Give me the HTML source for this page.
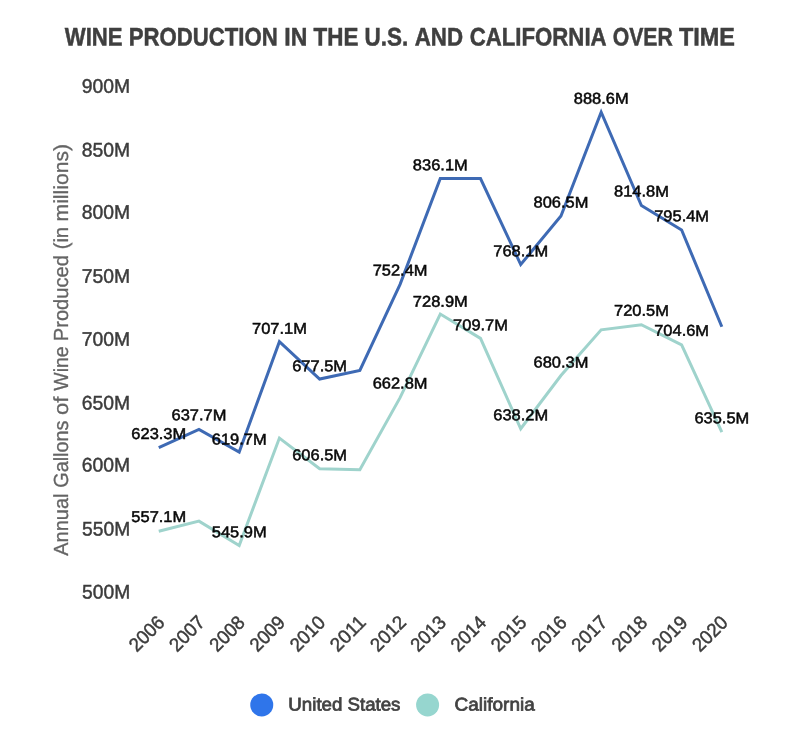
<!DOCTYPE html>
<html lang="en">
<head>
<meta charset="utf-8">
<title>Wine Production in the U.S. and California Over Time</title>
<style>
html,body{margin:0;padding:0;background:#fff;}
body{width:800px;height:729px;overflow:hidden;}
svg{display:block;}
text{font-family:"Liberation Sans",sans-serif;text-rendering:geometricPrecision;}
.title{font-size:25.3px;font-weight:700;fill:#3f3f3f;stroke:#3f3f3f;stroke-width:0.5px;}
.ytick{font-size:19.6px;font-weight:400;fill:#3c3c3c;stroke:#3c3c3c;stroke-width:0.45px;}
.xtick{font-size:19.3px;font-weight:400;fill:#3c3c3c;stroke:#3c3c3c;stroke-width:0.45px;}
.ytitle{font-size:20.4px;font-weight:400;fill:#646464;stroke:#646464;stroke-width:0.3px;}
.dl{font-size:15.7px;font-weight:400;fill:#080808;stroke:#080808;stroke-width:0.5px;}
.leg{font-size:18.3px;font-weight:400;fill:#424242;stroke:#424242;stroke-width:0.75px;}
.line{fill:none;stroke-width:3;stroke-linejoin:miter;stroke-linecap:butt;}
</style>
</head>
<body>
<svg width="800" height="729" viewBox="0 0 800 729" role="img" aria-label="Wine production in the U.S. and California over time">
<rect x="0" y="0" width="800" height="729" fill="#ffffff"/>
<g id="chart-title">
<text class="title" x="64.75" y="45.40" textLength="57.80" lengthAdjust="spacingAndGlyphs" transform="rotate(0.05 64.75 45.40)">WINE</text>
<text class="title" x="128.69" y="45.40" textLength="149.03" lengthAdjust="spacingAndGlyphs" transform="rotate(0.05 128.69 45.40)">PRODUCTION</text>
<text class="title" x="284.30" y="45.40" textLength="22.98" lengthAdjust="spacingAndGlyphs" transform="rotate(0.05 284.30 45.40)">IN</text>
<text class="title" x="313.53" y="45.40" textLength="44.85" lengthAdjust="spacingAndGlyphs" transform="rotate(0.05 313.53 45.40)">THE</text>
<text class="title" x="364.48" y="45.40" textLength="43.73" lengthAdjust="spacingAndGlyphs" transform="rotate(0.05 364.48 45.40)">U.S.</text>
<text class="title" x="414.69" y="45.40" textLength="48.32" lengthAdjust="spacingAndGlyphs" transform="rotate(0.05 414.69 45.40)">AND</text>
<text class="title" x="469.64" y="45.40" textLength="136.99" lengthAdjust="spacingAndGlyphs" transform="rotate(0.05 469.64 45.40)">CALIFORNIA</text>
<text class="title" x="612.76" y="45.40" textLength="60.06" lengthAdjust="spacingAndGlyphs" transform="rotate(0.05 612.76 45.40)">OVER</text>
<text class="title" x="678.95" y="45.40" textLength="56.06" lengthAdjust="spacingAndGlyphs" transform="rotate(0.05 678.95 45.40)">TIME</text>
</g>
<g id="y-axis-labels">
<text class="ytick" x="81.85" y="92.80" textLength="48.39" lengthAdjust="spacingAndGlyphs" transform="rotate(0.05 81.85 92.80)">900M</text>
<text class="ytick" x="81.85" y="156.60" textLength="48.38" lengthAdjust="spacingAndGlyphs" transform="rotate(0.05 81.85 156.60)">850M</text>
<text class="ytick" x="81.85" y="218.85" textLength="48.38" lengthAdjust="spacingAndGlyphs" transform="rotate(0.05 81.85 218.85)">800M</text>
<text class="ytick" x="81.85" y="282.85" textLength="48.39" lengthAdjust="spacingAndGlyphs" transform="rotate(0.05 81.85 282.85)">750M</text>
<text class="ytick" x="81.85" y="345.85" textLength="48.39" lengthAdjust="spacingAndGlyphs" transform="rotate(0.05 81.85 345.85)">700M</text>
<text class="ytick" x="81.85" y="409.60" textLength="48.39" lengthAdjust="spacingAndGlyphs" transform="rotate(0.05 81.85 409.60)">650M</text>
<text class="ytick" x="81.85" y="471.60" textLength="48.39" lengthAdjust="spacingAndGlyphs" transform="rotate(0.05 81.85 471.60)">600M</text>
<text class="ytick" x="82.10" y="535.60" textLength="48.12" lengthAdjust="spacingAndGlyphs" transform="rotate(0.05 82.10 535.60)">550M</text>
<text class="ytick" x="82.10" y="598.50" textLength="48.12" lengthAdjust="spacingAndGlyphs" transform="rotate(0.05 82.10 598.50)">500M</text>
</g>
<g id="y-axis-title" transform="translate(68.4 555.8) rotate(-90)">
<text class="ytitle" x="0.00" y="0.00" textLength="62.27" lengthAdjust="spacingAndGlyphs">Annual</text>
<text class="ytitle" x="68.06" y="0.00" textLength="67.28" lengthAdjust="spacingAndGlyphs">Gallons</text>
<text class="ytitle" x="140.92" y="0.00" textLength="18.36" lengthAdjust="spacingAndGlyphs">of</text>
<text class="ytitle" x="165.02" y="0.00" textLength="44.46" lengthAdjust="spacingAndGlyphs">Wine</text>
<text class="ytitle" x="214.56" y="0.00" textLength="86.18" lengthAdjust="spacingAndGlyphs">Produced</text>
<text class="ytitle" x="306.45" y="0.00" textLength="22.50" lengthAdjust="spacingAndGlyphs">(in</text>
<text class="ytitle" x="334.39" y="0.00" textLength="77.41" lengthAdjust="spacingAndGlyphs">millions)</text>
</g>
<g id="series">
<path class="line" stroke="#9fd3cc" d="M158.75 531.26 L198.97 521.15 L239.19 545.42 L279.41 438.09 L319.63 468.81 L359.85 469.82 L400.07 397.64 L440.29 314.07 L480.51 338.35 L520.73 428.74 L560.95 375.51 L601.17 329.88 L641.39 324.69 L681.61 344.79 L721.83 432.15"/>
<path class="line" stroke="#3e6ab4" d="M158.75 447.57 L198.97 429.37 L239.19 452.13 L279.41 341.63 L319.63 379.05 L359.85 370.46 L400.07 284.37 L440.29 178.55 L480.51 178.55 L520.73 264.52 L560.95 215.97 L601.17 112.18 L641.39 205.48 L681.61 230.01 L721.83 326.72"/>
</g>
<g id="data-labels">
<text class="dl" x="131.35" y="522.00" textLength="54.85" lengthAdjust="spacingAndGlyphs" transform="rotate(0.05 131.35 522.00)">557.1M</text>
<text class="dl" x="211.79" y="537.30" textLength="54.85" lengthAdjust="spacingAndGlyphs" transform="rotate(0.05 211.79 537.30)">545.9M</text>
<text class="dl" x="292.23" y="460.35" textLength="54.85" lengthAdjust="spacingAndGlyphs" transform="rotate(0.05 292.23 460.35)">606.5M</text>
<text class="dl" x="372.67" y="388.60" textLength="54.85" lengthAdjust="spacingAndGlyphs" transform="rotate(0.05 372.67 388.60)">662.8M</text>
<text class="dl" x="412.89" y="306.80" textLength="54.85" lengthAdjust="spacingAndGlyphs" transform="rotate(0.05 412.89 306.80)">728.9M</text>
<text class="dl" x="453.11" y="330.35" textLength="54.85" lengthAdjust="spacingAndGlyphs" transform="rotate(0.05 453.11 330.35)">709.7M</text>
<text class="dl" x="493.33" y="420.35" textLength="54.85" lengthAdjust="spacingAndGlyphs" transform="rotate(0.05 493.33 420.35)">638.2M</text>
<text class="dl" x="533.55" y="367.60" textLength="54.85" lengthAdjust="spacingAndGlyphs" transform="rotate(0.05 533.55 367.60)">680.3M</text>
<text class="dl" x="613.99" y="315.85" textLength="54.85" lengthAdjust="spacingAndGlyphs" transform="rotate(0.05 613.99 315.85)">720.5M</text>
<text class="dl" x="654.21" y="335.85" textLength="54.85" lengthAdjust="spacingAndGlyphs" transform="rotate(0.05 654.21 335.85)">704.6M</text>
<text class="dl" x="694.43" y="423.35" textLength="54.85" lengthAdjust="spacingAndGlyphs" transform="rotate(0.05 694.43 423.35)">635.5M</text>
<text class="dl" x="131.35" y="439.00" textLength="54.85" lengthAdjust="spacingAndGlyphs" transform="rotate(0.05 131.35 439.00)">623.3M</text>
<text class="dl" x="171.57" y="420.35" textLength="54.85" lengthAdjust="spacingAndGlyphs" transform="rotate(0.05 171.57 420.35)">637.7M</text>
<text class="dl" x="211.79" y="444.60" textLength="54.85" lengthAdjust="spacingAndGlyphs" transform="rotate(0.05 211.79 444.60)">619.7M</text>
<text class="dl" x="252.01" y="333.80" textLength="54.85" lengthAdjust="spacingAndGlyphs" transform="rotate(0.05 252.01 333.80)">707.1M</text>
<text class="dl" x="292.23" y="371.20" textLength="54.85" lengthAdjust="spacingAndGlyphs" transform="rotate(0.05 292.23 371.20)">677.5M</text>
<text class="dl" x="372.67" y="275.60" textLength="54.85" lengthAdjust="spacingAndGlyphs" transform="rotate(0.05 372.67 275.60)">752.4M</text>
<text class="dl" x="412.89" y="170.35" textLength="54.85" lengthAdjust="spacingAndGlyphs" transform="rotate(0.05 412.89 170.35)">836.1M</text>
<text class="dl" x="493.33" y="256.35" textLength="54.85" lengthAdjust="spacingAndGlyphs" transform="rotate(0.05 493.33 256.35)">768.1M</text>
<text class="dl" x="533.55" y="207.60" textLength="54.85" lengthAdjust="spacingAndGlyphs" transform="rotate(0.05 533.55 207.60)">806.5M</text>
<text class="dl" x="573.77" y="103.75" textLength="54.85" lengthAdjust="spacingAndGlyphs" transform="rotate(0.05 573.77 103.75)">888.6M</text>
<text class="dl" x="613.99" y="196.60" textLength="54.85" lengthAdjust="spacingAndGlyphs" transform="rotate(0.05 613.99 196.60)">814.8M</text>
<text class="dl" x="654.21" y="221.35" textLength="54.85" lengthAdjust="spacingAndGlyphs" transform="rotate(0.05 654.21 221.35)">795.4M</text>
</g>
<g id="x-axis-labels">
<g transform="translate(165.20 624.1) rotate(-45)"><text class="xtick" x="-40.35" y="0.00" textLength="40.95" lengthAdjust="spacingAndGlyphs">2006</text></g>
<g transform="translate(205.44 624.1) rotate(-45)"><text class="xtick" x="-40.35" y="0.00" textLength="41.21" lengthAdjust="spacingAndGlyphs">2007</text></g>
<g transform="translate(245.68 624.1) rotate(-45)"><text class="xtick" x="-40.35" y="0.00" textLength="40.95" lengthAdjust="spacingAndGlyphs">2008</text></g>
<g transform="translate(285.92 624.1) rotate(-45)"><text class="xtick" x="-40.35" y="0.00" textLength="40.95" lengthAdjust="spacingAndGlyphs">2009</text></g>
<g transform="translate(326.16 624.1) rotate(-45)"><text class="xtick" x="-40.35" y="0.00" textLength="40.95" lengthAdjust="spacingAndGlyphs">2010</text></g>
<g transform="translate(366.40 624.1) rotate(-45)"><text class="xtick" x="-40.35" y="0.00" textLength="41.21" lengthAdjust="spacingAndGlyphs">2011</text></g>
<g transform="translate(406.64 624.1) rotate(-45)"><text class="xtick" x="-40.35" y="0.00" textLength="41.21" lengthAdjust="spacingAndGlyphs">2012</text></g>
<g transform="translate(446.88 624.1) rotate(-45)"><text class="xtick" x="-40.35" y="0.00" textLength="40.95" lengthAdjust="spacingAndGlyphs">2013</text></g>
<g transform="translate(487.12 624.1) rotate(-45)"><text class="xtick" x="-40.35" y="0.00" textLength="40.68" lengthAdjust="spacingAndGlyphs">2014</text></g>
<g transform="translate(527.36 624.1) rotate(-45)"><text class="xtick" x="-40.35" y="0.00" textLength="40.95" lengthAdjust="spacingAndGlyphs">2015</text></g>
<g transform="translate(567.60 624.1) rotate(-45)"><text class="xtick" x="-40.35" y="0.00" textLength="40.95" lengthAdjust="spacingAndGlyphs">2016</text></g>
<g transform="translate(607.84 624.1) rotate(-45)"><text class="xtick" x="-40.35" y="0.00" textLength="41.21" lengthAdjust="spacingAndGlyphs">2017</text></g>
<g transform="translate(648.08 624.1) rotate(-45)"><text class="xtick" x="-40.35" y="0.00" textLength="40.95" lengthAdjust="spacingAndGlyphs">2018</text></g>
<g transform="translate(688.32 624.1) rotate(-45)"><text class="xtick" x="-40.35" y="0.00" textLength="40.95" lengthAdjust="spacingAndGlyphs">2019</text></g>
<g transform="translate(728.56 624.1) rotate(-45)"><text class="xtick" x="-40.35" y="0.00" textLength="40.95" lengthAdjust="spacingAndGlyphs">2020</text></g>
</g>
<g id="legend">
<circle cx="261.75" cy="704.9" r="11.5" fill="#2f75ea"/>
<text class="leg" x="288.30" y="710.50" textLength="54.11" lengthAdjust="spacingAndGlyphs" transform="rotate(0.05 288.30 710.50)">United</text>
<text class="leg" x="347.50" y="710.50" textLength="52.96" lengthAdjust="spacingAndGlyphs" transform="rotate(0.05 347.50 710.50)">States</text>
<circle cx="427.6" cy="704.9" r="11.5" fill="#96d6cf"/>
<text class="leg" x="454.60" y="710.50" textLength="80.10" lengthAdjust="spacingAndGlyphs" transform="rotate(0.05 454.60 710.50)">California</text>
</g>
</svg>
</body>
</html>
